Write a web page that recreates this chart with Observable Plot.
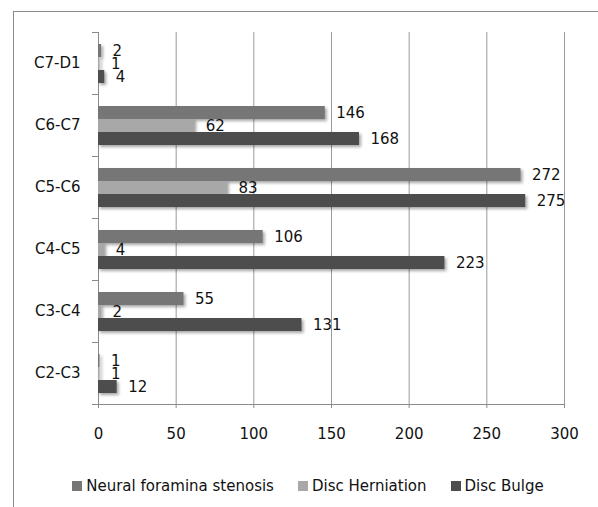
<!DOCTYPE html>
<html>
<head>
<meta charset="utf-8">
<script src="https://cdn.jsdelivr.net/npm/d3@7"></script>
<script src="https://cdn.jsdelivr.net/npm/@observablehq/plot@0.6"></script>
<style>
  body { margin: 0; background: #fff; font-family: "DejaVu Sans", sans-serif; }
  #wrap { position: relative; width: 598px; height: 507px; overflow: hidden; }
  #border { position: absolute; left: 13px; top: 11px; width: 600px; height: 600px;
            border-left: 1px solid #8a8a8a; border-top: 1px solid #8a8a8a; }
  #chart { position: absolute; left: 0; top: 0; }
  .bars { filter: drop-shadow(2px 2px 1.5px rgba(0,0,0,0.35)); }
  #legend { position: absolute; top: 477px; left: 0; width: 598px; display: flex;
            justify-content: center; gap: 24px; font-size: 15px; color: #111; padding-left: 18px; box-sizing: border-box; }
  #legend span.item { display: inline-flex; align-items: center; }
  #legend i { display: inline-block; width: 10px; height: 10px; margin-right: 4px; }
</style>
</head>
<body>
<div id="wrap">
  <div id="border"></div>
  <div id="chart"></div>
  <div id="legend"></div>
</div>
<script>
const categories = ["C7-D1", "C6-C7", "C5-C6", "C4-C5", "C3-C4", "C2-C3"];
const series = ["Neural foramina stenosis", "Disc Herniation", "Disc Bulge"];
const neuralForaminaStenosis = [2, 146, 272, 106, 55, 1];
const discHerniation = [1, 62, 83, 4, 2, 1];
const discBulge = [4, 168, 275, 223, 131, 12];
const xTicks = [0, 50, 100, 150, 200, 250, 300];
const colors = ["#767676", "#a8a8a8", "#4d4d4d"];

const valuesBySeries = [neuralForaminaStenosis, discHerniation, discBulge];
const data = [];
categories.forEach((cat, i) => {
  series.forEach((s, j) => data.push({cat, series: s, value: valuesBySeries[j][i]}));
});

const chart = Plot.plot({
  width: 598,
  height: 465,
  marginLeft: 98,
  marginRight: 34,
  marginTop: 32,
  marginBottom: 61,
  style: {fontFamily: "DejaVu Sans, sans-serif", fontSize: "15px", color: "#111", background: "transparent"},
  x: {domain: [0, 300], label: null},
  y: {domain: series, paddingInner: 0, paddingOuter: 0.76, axis: null},
  fy: {domain: categories, padding: 0, axis: "left", label: null, tickSize: 0, tickPadding: 18},
  color: {domain: series, range: colors},
  marks: [
    Plot.gridX(xTicks, {stroke: "#9a9a9a", strokeOpacity: 1}),
    Plot.axisX({ticks: xTicks, tickSize: 4, tickPadding: 20, stroke: "#8a8a8a", fill: "#111", label: null}),
    Plot.ruleX([0], {stroke: "#8a8a8a"}),
    Plot.frame({anchor: "top", stroke: "#8a8a8a", insetLeft: -6, insetRight: 466}),
    Plot.frame({anchor: "bottom", facet: "super", stroke: "#8a8a8a", insetLeft: -6}),
    Plot.barX(data, {x: "value", y: "series", fy: "cat", fill: "series", className: "bars"}),
    Plot.text(data, {x: "value", y: "series", fy: "cat", text: d => String(d.value),
      dx: 11, textAnchor: "start", fill: "#111", fontSize: 15})
  ]
});
document.getElementById("chart").appendChild(chart);

const legend = document.getElementById("legend");
series.forEach((s, j) => {
  const item = document.createElement("span");
  item.className = "item";
  const sw = document.createElement("i");
  sw.style.background = colors[j];
  item.appendChild(sw);
  item.appendChild(document.createTextNode(s));
  legend.appendChild(item);
});
</script>
</body>
</html>
